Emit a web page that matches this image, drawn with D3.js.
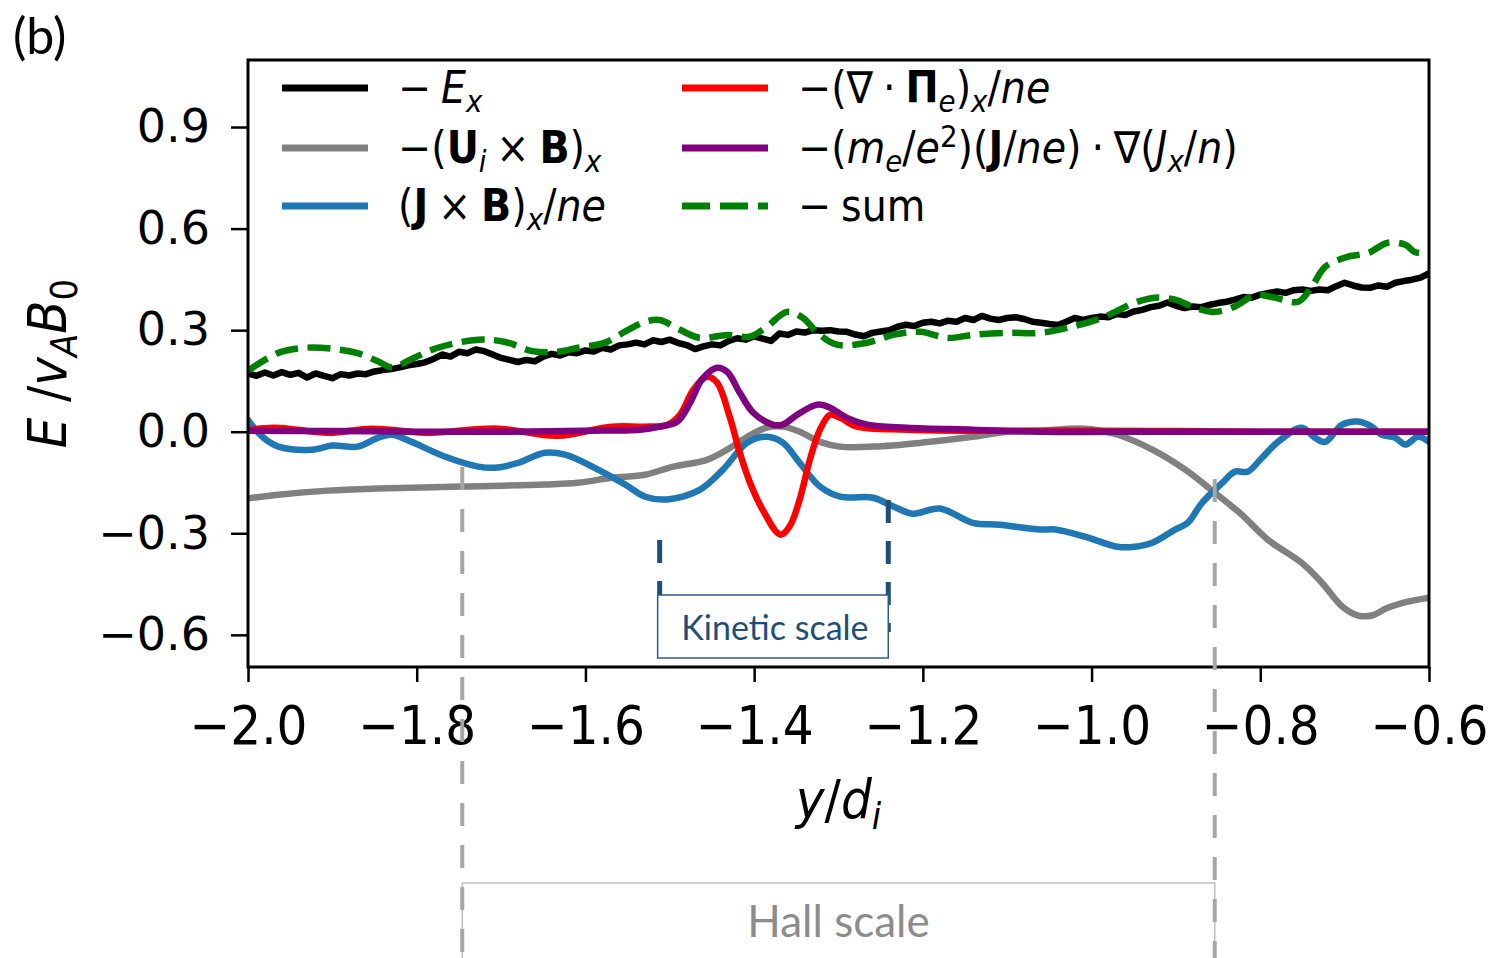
<!DOCTYPE html>
<html>
<head>
<meta charset="utf-8">
<script src="https://cdn.jsdelivr.net/npm/d3@7"></script>
<style>
  body { margin: 0; background: #fff; }
  svg { display: block; }
</style>
</head>
<body>
<svg id="chart" width="1491" height="958"></svg>
<script>
// ---- data -----------------------------------------------------------------
const xTicks = [-2.0, -1.8, -1.6, -1.4, -1.2, -1.0, -0.8, -0.6];
const yTicks = [-0.6, -0.3, 0.0, 0.3, 0.6, 0.9];

// -E_x, sampled every 0.01 d_i from -2.0 to -0.6
const exStart = -2.0, exStep = 0.01;
const exVals = [
  0.172, 0.165, 0.175, 0.166, 0.176, 0.168, 0.174, 0.160, 0.172, 0.165,
  0.158, 0.170, 0.166, 0.172, 0.170, 0.178, 0.182, 0.185, 0.190, 0.196,
  0.200, 0.205, 0.215, 0.228, 0.222, 0.236, 0.232, 0.243, 0.238, 0.228,
  0.218, 0.212, 0.206, 0.212, 0.208, 0.222, 0.230, 0.225, 0.235, 0.232,
  0.240, 0.237, 0.248, 0.243, 0.255, 0.258, 0.263, 0.258, 0.270, 0.265,
  0.272, 0.262, 0.256, 0.244, 0.252, 0.258, 0.255, 0.268, 0.276, 0.272,
  0.282, 0.275, 0.268, 0.290, 0.286, 0.296, 0.293, 0.300, 0.298, 0.300,
  0.296, 0.295, 0.287, 0.282, 0.292, 0.296, 0.300, 0.310, 0.316, 0.312,
  0.322, 0.325, 0.320, 0.328, 0.325, 0.336, 0.330, 0.342, 0.334, 0.330,
  0.336, 0.338, 0.333, 0.325, 0.322, 0.318, 0.315, 0.325, 0.336, 0.330,
  0.336, 0.340, 0.338, 0.348, 0.345, 0.355, 0.360, 0.368, 0.372, 0.382,
  0.372, 0.365, 0.370, 0.368, 0.375, 0.380, 0.384, 0.390, 0.398, 0.396,
  0.405, 0.410, 0.414, 0.410, 0.418, 0.420, 0.416, 0.420, 0.418, 0.430,
  0.440, 0.432, 0.426, 0.425, 0.432, 0.428, 0.440, 0.445, 0.449, 0.455,
  0.468
];

// -(U_i x B)_x
const uibX = [-2.0, -1.964, -1.905, -1.846, -1.746, -1.648, -1.609, -1.569, -1.529, -1.496,
  -1.456, -1.432, -1.408, -1.385, -1.366, -1.346, -1.322, -1.298, -1.259, -1.200,
  -1.141, -1.100, -1.061, -1.008, -0.969, -0.928, -0.889, -0.854, -0.822, -0.791,
  -0.751, -0.727, -0.703, -0.684, -0.668, -0.649, -0.625, -0.600];
const uibY = [-0.197, -0.186, -0.174, -0.168, -0.162, -0.156, -0.151, -0.136, -0.127, -0.103,
  -0.083, -0.053, -0.015, 0.012, 0.015, 0.000, -0.030, -0.044, -0.044, -0.032,
  -0.015, 0.000, 0.003, 0.009, -0.009, -0.053, -0.112, -0.180, -0.245, -0.319,
  -0.387, -0.446, -0.516, -0.543, -0.543, -0.520, -0.502, -0.490];

// (J x B)_x / ne
const jbX = [-2.0, -1.983, -1.964, -1.924, -1.900, -1.870, -1.846, -1.829, -1.806, -1.766,
  -1.727, -1.704, -1.680, -1.648, -1.624, -1.585, -1.553, -1.529, -1.503, -1.464,
  -1.437, -1.408, -1.385, -1.366, -1.346, -1.322, -1.298, -1.259, -1.235, -1.212,
  -1.180, -1.141, -1.109, -1.061, -1.043, -1.008, -0.969, -0.949, -0.928, -0.901,
  -0.886, -0.869, -0.845, -0.830, -0.815, -0.798, -0.779, -0.751, -0.735, -0.723,
  -0.703, -0.684, -0.668, -0.656, -0.640, -0.628, -0.613, -0.600];
const jbY = [0.035, -0.015, -0.044, -0.053, -0.041, -0.044, -0.018, -0.009, -0.030, -0.074,
  -0.103, -0.106, -0.092, -0.062, -0.068, -0.112, -0.156, -0.192, -0.200, -0.171,
  -0.112, -0.032, -0.015, -0.032, -0.092, -0.162, -0.192, -0.195, -0.221, -0.242,
  -0.227, -0.269, -0.275, -0.289, -0.289, -0.310, -0.340, -0.340, -0.328, -0.289,
  -0.269, -0.210, -0.151, -0.118, -0.118, -0.077, -0.030, 0.012, -0.018, -0.030,
  0.021, 0.030, 0.015, -0.009, -0.018, -0.038, -0.015, -0.030];

// -(div Pi_e)_x / ne
const piX = [-2.0, -1.968, -1.905, -1.853, -1.790, -1.704, -1.633, -1.569, -1.529, -1.503,
  -1.488, -1.472, -1.456, -1.444, -1.429, -1.417, -1.405, -1.390, -1.369, -1.358,
  -1.346, -1.334, -1.322, -1.310, -1.298, -1.278, -1.219, -1.141, -1.000, -0.900,
  -0.800, -0.600];
const piY = [0.005, 0.012, -0.003, 0.009, -0.003, 0.009, -0.012, 0.015, 0.015, 0.020,
  0.050, 0.124, 0.162, 0.145, 0.044, -0.062, -0.150, -0.230, -0.304, -0.280,
  -0.200, -0.083, 0.006, 0.050, 0.041, 0.015, 0.006, 0.003, 0.003, 0.002,
  0.000, 0.000];

// -(m_e/e^2)(J/ne).grad(J_x/n)
const inX = [-2.0, -1.9, -1.8, -1.7, -1.6, -1.535, -1.512, -1.491, -1.476, -1.462,
  -1.444, -1.432, -1.417, -1.401, -1.378, -1.366, -1.349, -1.325, -1.310, -1.290,
  -1.266, -1.219, -1.141, -1.061, -0.900, -0.600];
const inY = [0.003, 0.002, 0.000, 0.000, 0.003, 0.006, 0.015, 0.030, 0.085, 0.154,
  0.189, 0.177, 0.115, 0.056, 0.021, 0.021, 0.050, 0.080, 0.071, 0.041,
  0.021, 0.012, 0.006, 0.000, 0.000, 0.000];

// -sum
const sumX = [-2.0, -1.964, -1.932, -1.900, -1.870, -1.846, -1.829, -1.806, -1.775, -1.727,
  -1.695, -1.663, -1.633, -1.609, -1.577, -1.550, -1.529, -1.512, -1.488, -1.464,
  -1.432, -1.405, -1.385, -1.361, -1.342, -1.325, -1.302, -1.266, -1.235, -1.203,
  -1.171, -1.141, -1.100, -1.061, -1.028, -0.988, -0.949, -0.925, -0.901, -0.877,
  -0.854, -0.830, -0.806, -0.783, -0.755, -0.739, -0.723, -0.696, -0.672, -0.649,
  -0.628, -0.617, -0.600];
const sumY = [0.180, 0.233, 0.248, 0.245, 0.232, 0.208, 0.190, 0.215, 0.248, 0.272,
  0.265, 0.238, 0.236, 0.248, 0.263, 0.300, 0.325, 0.330, 0.301, 0.277,
  0.286, 0.281, 0.310, 0.354, 0.336, 0.292, 0.257, 0.263, 0.286, 0.295,
  0.277, 0.286, 0.292, 0.292, 0.307, 0.336, 0.381, 0.396, 0.390, 0.366,
  0.354, 0.370, 0.404, 0.396, 0.384, 0.428, 0.487, 0.517, 0.528, 0.558,
  0.552, 0.531, 0.525];

// scale ranges marked under the plot (in y/d_i)
const kineticRange = [-1.512, -1.241];
const hallRange = [-1.746, -0.854];

// legend entries: text parts (i = italic, b = bold, sub / sup)
const OPS = "\u2005"; // narrow space around binary operators
const legendCol1 = [
  { key: "ex",  parts: [{ t: "\u2212\u2005" }, { t: "E", i: 1 }, { t: "x", i: 1, sub: 1 }] },
  { key: "uib", parts: [{ t: "\u2212(" }, { t: "U", b: 1 }, { t: "i", i: 1, sub: 1 }, { t: OPS + "\u00d7" + OPS }, { t: "B", b: 1 }, { t: ")" }, { t: "x", i: 1, sub: 1 }] },
  { key: "jb",  parts: [{ t: "(" }, { t: "J", b: 1 }, { t: OPS + "\u00d7" + OPS }, { t: "B", b: 1 }, { t: ")" }, { t: "x", i: 1, sub: 1 }, { t: "/" }, { t: "ne", i: 1 }] }
];
const legendCol2 = [
  { key: "pi",  parts: [{ t: "\u2212(\u2207" + OPS + "\u00b7" + OPS }, { t: "\u03a0", b: 1 }, { t: "e", i: 1, sub: 1 }, { t: ")" }, { t: "x", i: 1, sub: 1 }, { t: "/" }, { t: "ne", i: 1 }] },
  { key: "in",  parts: [{ t: "\u2212(" }, { t: "m", i: 1 }, { t: "e", i: 1, sub: 1 }, { t: "/" }, { t: "e", i: 1 }, { t: "2", sup: 1 }, { t: ")(" }, { t: "J", b: 1 }, { t: "/" }, { t: "ne", i: 1 }, { t: ")" + OPS + "\u00b7" + OPS + "\u2207(" }, { t: "J", i: 1 }, { t: "x", i: 1, sub: 1 }, { t: "/" }, { t: "n", i: 1 }, { t: ")" }] },
  { key: "sum", parts: [{ t: "\u2212\u2005sum" }] }
];

// ---- styles -----------------------------------------------------------------
const seriesStyle = {
  ex:  { color: "#000000", dash: null },
  uib: { color: "#808080", dash: null },
  jb:  { color: "#1f77b4", dash: null },
  pi:  { color: "#ff0000", dash: null },
  in:  { color: "#800080", dash: null },
  sum: { color: "#008000", dash: "23,9.5", legendDash: "28,10" }
};
const mathFont = "'DejaVu Sans Condensed', 'DejaVu Sans', sans-serif";
const tickFontY = "'DejaVu Sans', sans-serif";
const noteFont = "Lato, 'Open Sans', sans-serif";

// ---- layout -----------------------------------------------------------------
const svg = d3.select("#chart");
svg.append("rect").attr("width", 1491).attr("height", 958).attr("fill", "#fff");

const plot = { left: 248, right: 1429, top: 60, bottom: 667 };
const x = d3.scaleLinear().domain([-2.0, -0.6]).range([plot.left, plot.right]);
const y = d3.scaleLinear().domain([-0.695, 1.098]).range([plot.bottom, plot.top]);

const minusFmt = d => d3.format(".1f")(d).replace("-", "\u2212");

svg.append("defs").append("clipPath").attr("id", "plotClip")
  .append("rect")
  .attr("x", plot.left).attr("y", plot.top)
  .attr("width", plot.right - plot.left).attr("height", plot.bottom - plot.top);

// ---- series -----------------------------------------------------------------
const series = [
  { key: "ex",  pts: exVals.map((v, i) => [exStart + i * exStep, v]), curve: d3.curveLinear },
  { key: "uib", pts: uibX.map((v, i) => [v, uibY[i]]), curve: d3.curveCatmullRom },
  { key: "jb",  pts: jbX.map((v, i) => [v, jbY[i]]), curve: d3.curveCatmullRom },
  { key: "pi",  pts: piX.map((v, i) => [v, piY[i]]), curve: d3.curveCatmullRom },
  { key: "in",  pts: inX.map((v, i) => [v, inY[i]]), curve: d3.curveCatmullRom },
  { key: "sum", pts: sumX.map((v, i) => [v, sumY[i]]), curve: d3.curveCatmullRom }
];

const lines = svg.append("g").attr("clip-path", "url(#plotClip)");
series.forEach(s => {
  const st = seriesStyle[s.key];
  const gen = d3.line().x(d => x(d[0])).y(d => y(d[1])).curve(s.curve);
  lines.append("path")
    .datum(s.pts)
    .attr("d", gen)
    .attr("fill", "none")
    .attr("stroke", st.color)
    .attr("stroke-width", 6.5)
    .attr("stroke-linejoin", "round")
    .attr("stroke-linecap", st.dash ? "butt" : "round")
    .attr("stroke-dasharray", st.dash);
});

// ---- axes -------------------------------------------------------------------
const xAxisG = svg.append("g")
  .attr("transform", `translate(0,${plot.bottom})`)
  .call(d3.axisBottom(x).tickValues(xTicks).tickFormat(minusFmt)
    .tickSize(15).tickPadding(24).tickSizeOuter(0));
const yAxisG = svg.append("g")
  .attr("transform", `translate(${plot.left},0)`)
  .call(d3.axisLeft(y).tickValues(yTicks).tickFormat(minusFmt)
    .tickSize(17).tickPadding(21).tickSizeOuter(0));

xAxisG.attr("font-family", mathFont).attr("font-size", 54);
yAxisG.attr("font-family", tickFontY).attr("font-size", 46);
[xAxisG, yAxisG].forEach(g => {
  g.select(".domain").remove();
  g.selectAll(".tick line").attr("stroke", "#000").attr("stroke-width", 2.5);
  g.selectAll(".tick text").attr("fill", "#000");
});

svg.append("rect")
  .attr("x", plot.left).attr("y", plot.top)
  .attr("width", plot.right - plot.left).attr("height", plot.bottom - plot.top)
  .attr("fill", "none").attr("stroke", "#000").attr("stroke-width", 3);

// ---- rich text helper (italic / bold / sub / sup) ----------------------------
function richText(parent, px, py, parts, fs, attrs) {
  const t = parent.append("text")
    .attr("x", px).attr("y", py)
    .attr("font-family", mathFont).attr("font-size", fs).attr("fill", "#000");
  if (attrs) Object.entries(attrs).forEach(([k, v]) => t.attr(k, v));
  let shift = 0;
  parts.forEach(p => {
    const target = p.sub ? 0.2 * fs : p.sup ? -0.36 * fs : 0;
    const ts = t.append("tspan").text(p.t).attr("dy", target - shift);
    shift = target;
    if (p.sub || p.sup) ts.attr("font-size", fs * 0.7);
    if (p.i) ts.attr("font-style", "italic");
    if (p.b) ts.attr("font-weight", "bold");
  });
  return t;
}

// axis labels
richText(svg, (plot.left + plot.right) / 2, 818,
  [{ t: "y", i: 1 }, { t: "/" }, { t: "d", i: 1 }, { t: "i", i: 1, sub: 1 }],
  54, { "text-anchor": "middle" });

richText(svg, 0, 0,
  [{ t: "E", i: 1 }, { t: " /" }, { t: "v", i: 1 }, { t: "A", i: 1, sub: 1 }, { t: "B", i: 1 }, { t: "0", sub: 1 }],
  54, { "text-anchor": "middle", transform: `translate(66,${(plot.top + plot.bottom) / 2}) rotate(-90)` });

// panel tag
svg.append("text").attr("x", 13).attr("y", 54)
  .attr("font-family", noteFont).attr("font-size", 50).attr("fill", "#000")
  .text("(b)");

// ---- legend -------------------------------------------------------------------
const legendRows = [88, 148, 206];
const legendCols = [{ x0: 282, x1: 368, tx: 398, items: legendCol1 },
                    { x0: 682, x1: 768, tx: 798, items: legendCol2 }];
const legend = svg.append("g");
legendCols.forEach(col => {
  col.items.forEach((it, r) => {
    const st = seriesStyle[it.key];
    legend.append("line")
      .attr("x1", col.x0).attr("x2", col.x1)
      .attr("y1", legendRows[r]).attr("y2", legendRows[r])
      .attr("stroke", st.color).attr("stroke-width", 7)
      .attr("stroke-dasharray", st.legendDash || null);
    richText(legend, col.tx, legendRows[r] + 15, it.parts, 44);
  });
});

// ---- scale annotations ------------------------------------------------------------
const kinColor = "#1f4e79";
const ann = svg.append("g");

// kinetic-scale guides
[[kineticRange[0], 540], [kineticRange[1], 500]].forEach(([v, y0]) => {
  ann.append("line")
    .attr("x1", x(v)).attr("x2", x(v)).attr("y1", y0).attr("y2", 632)
    .attr("stroke", kinColor).attr("stroke-width", 5)
    .attr("stroke-dasharray", "23,18");
});
ann.append("rect")
  .attr("x", x(kineticRange[0]) - 2).attr("y", 595)
  .attr("width", x(kineticRange[1]) - x(kineticRange[0]) + 2).attr("height", 63)
  .attr("fill", "#fff").attr("stroke", "#2e5a87").attr("stroke-width", 1.5);
ann.append("text")
  .attr("x", (x(kineticRange[0]) + x(kineticRange[1])) / 2 + 1).attr("y", 640)
  .attr("text-anchor", "middle")
  .attr("font-family", noteFont).attr("font-size", 34).attr("fill", kinColor)
  .text("Kinetic scale");

// hall-scale guides
ann.append("rect")
  .attr("x", x(hallRange[0])).attr("y", 883)
  .attr("width", x(hallRange[1]) - x(hallRange[0])).attr("height", 100)
  .attr("fill", "none").attr("stroke", "#bdbdbd").attr("stroke-width", 1.5);
[[hallRange[0], 467], [hallRange[1], 479]].forEach(([v, y0]) => {
  ann.append("line")
    .attr("x1", x(v)).attr("x2", x(v)).attr("y1", y0).attr("y2", 958)
    .attr("stroke", "#a6a6a6").attr("stroke-width", 4)
    .attr("stroke-dasharray", "23,19");
});
ann.append("text")
  .attr("x", (x(hallRange[0]) + x(hallRange[1])) / 2).attr("y", 937)
  .attr("text-anchor", "middle")
  .attr("font-family", noteFont).attr("font-size", 44).attr("fill", "#8c8c8c")
  .text("Hall scale");
</script>
</body>
</html>
